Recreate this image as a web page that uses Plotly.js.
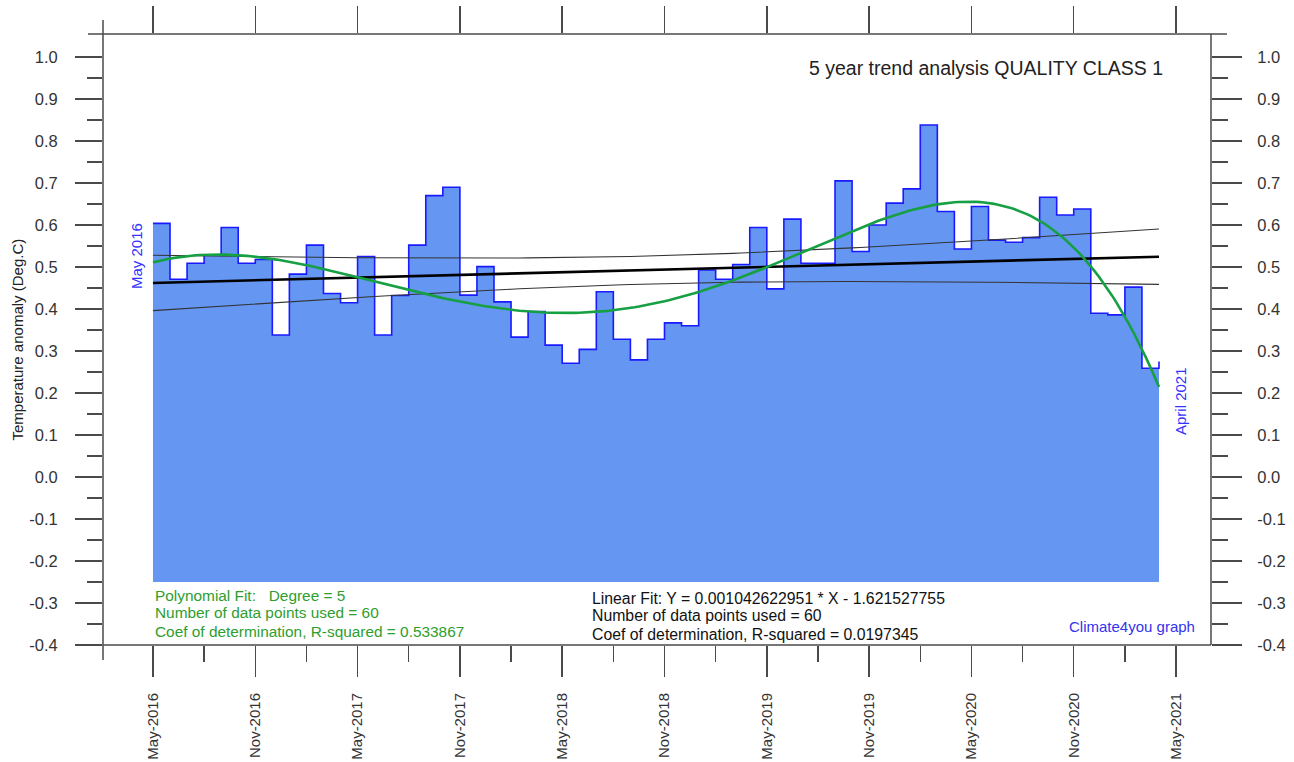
<!DOCTYPE html>
<html><head><meta charset="utf-8">
<script src="https://cdn.plot.ly/plotly-3.0.1.min.js"></script>
<style>html,body{margin:0;padding:0;background:#fff}#chart{width:1294px;height:762px}</style>
</head><body><div id="chart"></div>
<script>
// Monthly categories (May 2016 - April 2021)
const months = [
 'May-2016','Jun-2016','Jul-2016','Aug-2016','Sep-2016','Oct-2016','Nov-2016','Dec-2016',
 'Jan-2017','Feb-2017','Mar-2017','Apr-2017','May-2017','Jun-2017','Jul-2017','Aug-2017','Sep-2017','Oct-2017','Nov-2017','Dec-2017',
 'Jan-2018','Feb-2018','Mar-2018','Apr-2018','May-2018','Jun-2018','Jul-2018','Aug-2018','Sep-2018','Oct-2018','Nov-2018','Dec-2018',
 'Jan-2019','Feb-2019','Mar-2019','Apr-2019','May-2019','Jun-2019','Jul-2019','Aug-2019','Sep-2019','Oct-2019','Nov-2019','Dec-2019',
 'Jan-2020','Feb-2020','Mar-2020','Apr-2020','May-2020','Jun-2020','Jul-2020','Aug-2020','Sep-2020','Oct-2020','Nov-2020','Dec-2020',
 'Jan-2021','Feb-2021','Mar-2021','Apr-2021'
];
// Temperature anomaly (Deg.C)
const anomaly = [
 0.604,0.471,0.509,0.529,0.594,0.509,0.518,0.338,
 0.483,0.552,0.437,0.415,0.525,0.338,0.432,0.552,0.670,0.690,0.433,0.501,
 0.417,0.333,0.394,0.314,0.271,0.304,0.441,0.328,0.279,0.328,0.367,0.360,
 0.493,0.471,0.506,0.594,0.448,0.614,0.509,0.509,0.705,0.537,0.600,0.652,
 0.686,0.838,0.632,0.543,0.644,0.564,0.559,0.570,0.666,0.624,0.638,0.390,
 0.386,0.452,0.259,0.275
];
const xTickLabels = ['May-2016','Nov-2016','May-2017','Nov-2017','May-2018','Nov-2018','May-2019','Nov-2019','May-2020','Nov-2020','May-2021'];
const yTickValues = [-0.4,-0.3,-0.2,-0.1,0.0,0.1,0.2,0.3,0.4,0.5,0.6,0.7,0.8,0.9,1.0];
const fillBase = -0.25;

// ---- derived ----
const n = anomaly.length;
const xs = months.map((m,i)=>i);
const xTickVals = xTickLabels.map((l,i)=>i*6);
const xMinor = []; for (let i=-1;i<=20;i++){ xMinor.push(i*3); }
const yTickText = yTickValues.map(v=>v.toFixed(1));
const yMinor = yTickValues.slice(0,-1).map(v=>Math.round((v+0.05)*100)/100);

// linear regression + 95% confidence band of the mean
const xbar = xs.reduce((a,b)=>a+b,0)/n;
const ybar = anomaly.reduce((a,b)=>a+b,0)/n;
let sxx=0, sxy=0;
for (let i=0;i<n;i++){ sxx+=(xs[i]-xbar)**2; sxy+=(xs[i]-xbar)*(anomaly[i]-ybar); }
const slope = sxy/sxx, icpt = ybar - slope*xbar;
let sse=0; for (let i=0;i<n;i++){ sse += (anomaly[i]-(icpt+slope*xs[i]))**2; }
const s = Math.sqrt(sse/(n-2)), tval = 2.0017;
const fx=[], fy=[], fu=[], fl=[];
for (let x=0; x<=n-1+1e-9; x+=0.5){
  const yy = icpt+slope*x;
  const w = tval*s*Math.sqrt(1/n + (x-xbar)**2/sxx);
  fx.push(x); fy.push(yy); fu.push(yy+w); fl.push(yy-w);
}

// polynomial fit, degree 5
const deg = 5, half = (n-1)/2;
const M = Array.from({length:deg+1},()=>Array(deg+2).fill(0));
for (let i=0;i<n;i++){
  const t=(xs[i]-half)/half;
  const p=[]; for(let k=0;k<=deg;k++) p.push(Math.pow(t,k));
  for(let r=0;r<=deg;r++){ for(let c=0;c<=deg;c++) M[r][c]+=p[r]*p[c]; M[r][deg+1]+=p[r]*anomaly[i]; }
}
for (let c=0;c<=deg;c++){
  let piv=c; for(let r=c+1;r<=deg;r++) if(Math.abs(M[r][c])>Math.abs(M[piv][c])) piv=r;
  [M[c],M[piv]]=[M[piv],M[c]];
  for(let r=0;r<=deg;r++){ if(r===c) continue; const f=M[r][c]/M[c][c]; for(let k=c;k<=deg+1;k++) M[r][k]-=f*M[c][k]; }
}
const coef = M.map((row,i)=>row[deg+1]/row[i]);
const px=[], py=[];
for (let x=0; x<=n-1+1e-9; x+=0.25){
  const t=(x-half)/half; let v=0; for(let k=0;k<=deg;k++) v+=coef[k]*Math.pow(t,k);
  px.push(x); py.push(v);
}

const FONT = 'Liberation Sans, Arial, sans-serif';
const AX = '#4a4a4a';

const traces = [
  {x:[0,n-1], y:[fillBase,fillBase], mode:'lines', line:{width:0,color:'rgba(0,0,0,0)'}, hoverinfo:'skip', showlegend:false},
  {x:xs, y:anomaly, mode:'lines', line:{shape:'hv', color:'#1a1aff', width:1.6},
   fill:'tonexty', fillcolor:'rgb(100,150,242)', hoverinfo:'skip', showlegend:false},
  {x:fx, y:fu, mode:'lines', line:{color:'#333', width:1.1}, hoverinfo:'skip', showlegend:false},
  {x:fx, y:fl, mode:'lines', line:{color:'#333', width:1.1}, hoverinfo:'skip', showlegend:false},
  {x:fx, y:fy, mode:'lines', line:{color:'#000', width:2.6}, hoverinfo:'skip', showlegend:false},
  {x:px, y:py, mode:'lines', line:{color:'#17a043', width:2.6}, hoverinfo:'skip', showlegend:false},
  {x:[0], y:[0], xaxis:'x2', yaxis:'y2', mode:'markers', marker:{opacity:0}, hoverinfo:'skip', showlegend:false}
];

const xr = [-2.93, 62.05], yr = [-0.4, 1.0548];
const tickfontY = {family:FONT, size:16.5, color:'#333'};

const layout = {
  width:1294, height:762,
  margin:{l:103, r:83, t:34, b:117, pad:0},
  paper_bgcolor:'#fff', plot_bgcolor:'#fff', showlegend:false,
  xaxis:{range:xr, tickmode:'array', tickvals:xTickVals, ticktext:xTickLabels, tickangle:-90,
    ticks:'outside', ticklen:31, tickwidth:1.5, tickcolor:AX, showline:false, showgrid:false, zeroline:false,
    tickfont:{family:FONT, size:15, color:'#333'}, ticklabelstandoff:10,
    minor:{tickmode:'array', tickvals:xMinor, ticks:'outside', ticklen:16, tickwidth:1.5, tickcolor:AX, showgrid:false}},
  xaxis2:{range:xr, overlaying:'x', side:'top', anchor:'y2', tickmode:'array', tickvals:xTickVals,
    ticks:'outside', ticklen:27, tickwidth:1.5, tickcolor:AX, showticklabels:false, showline:false, showgrid:false, zeroline:false},
  yaxis:{range:yr, tickmode:'array', tickvals:yTickValues, ticktext:yTickText,
    ticks:'outside', ticklen:27, tickwidth:1.5, tickcolor:AX, showline:false, showgrid:false, zeroline:false,
    tickfont:tickfontY, ticklabelstandoff:14,
    minor:{tickmode:'array', tickvals:yMinor, ticks:'outside', ticklen:15, tickwidth:1.5, tickcolor:AX, showgrid:false}},
  yaxis2:{range:yr, overlaying:'y', side:'right', anchor:'x2', tickmode:'array', tickvals:yTickValues, ticktext:yTickText,
    ticks:'outside', ticklen:30, tickwidth:1.5, tickcolor:AX, showline:false, showgrid:false, zeroline:false,
    tickfont:tickfontY, ticklabelstandoff:12,
    minor:{tickmode:'array', tickvals:yMinor, ticks:'outside', ticklen:16, tickwidth:1.5, tickcolor:AX, showgrid:false}},
  shapes:[
    {type:'line', xref:'paper', yref:'paper', x0:0, x1:0, y0:-0.0245, y1:1.0229, line:{color:AX, width:1.5}},
    {type:'line', xref:'paper', yref:'paper', x0:-0.0135, x1:1.0144, y0:1, y1:1, line:{color:AX, width:1.5}},
    {type:'line', xref:'paper', yref:'paper', x0:1, x1:1, y0:0, y1:1, line:{color:AX, width:1.5}},
    {type:'line', xref:'paper', yref:'paper', x0:0, x1:1, y0:0, y1:0, line:{color:AX, width:1.5}}
  ],
  annotations:[
    {text:'5 year trend analysis QUALITY CLASS 1', xref:'paper', yref:'paper', x:0.9585, y:0.9444, xanchor:'right', yanchor:'middle', showarrow:false, font:{family:FONT, size:19.5, color:'#222'}},
    {text:'Temperature anomaly (Deg.C)', xref:'paper', yref:'paper', x:-0.0776, y:0.5, xanchor:'center', yanchor:'middle', textangle:-90, showarrow:false, font:{family:FONT, size:15, color:'#222'}},
    {text:'May 2016', xref:'paper', yref:'paper', x:0.0307, y:0.6367, xanchor:'center', yanchor:'middle', textangle:-90, showarrow:false, font:{family:FONT, size:15, color:'#3333ff'}},
    {text:'April 2021', xref:'paper', yref:'paper', x:0.972, y:0.3993, xanchor:'center', yanchor:'middle', textangle:-90, showarrow:false, font:{family:FONT, size:15, color:'#3333ff'}},
    {text:'Polynomial Fit:   Degree = 5', xref:'paper', yref:'paper', x:0.0451, y:0.0802, xanchor:'left', yanchor:'middle', showarrow:false, font:{family:FONT, size:15.4, color:'#2e9e2e'}},
    {text:'Number of data points used = 60', xref:'paper', yref:'paper', x:0.0451, y:0.0524, xanchor:'left', yanchor:'middle', showarrow:false, font:{family:FONT, size:15.4, color:'#2e9e2e'}},
    {text:'Coef of determination, R-squared = 0.533867', xref:'paper', yref:'paper', x:0.0451, y:0.0213, xanchor:'left', yanchor:'middle', showarrow:false, font:{family:FONT, size:15.4, color:'#2e9e2e'}},
    {text:'Linear Fit: Y = 0.001042622951 * X - 1.621527755', xref:'paper', yref:'paper', x:0.4395, y:0.0769, xanchor:'left', yanchor:'middle', showarrow:false, font:{family:FONT, size:15.8, color:'#111'}},
    {text:'Number of data points used = 60', xref:'paper', yref:'paper', x:0.4395, y:0.0475, xanchor:'left', yanchor:'middle', showarrow:false, font:{family:FONT, size:15.8, color:'#111'}},
    {text:'Coef of determination, R-squared = 0.0197345', xref:'paper', yref:'paper', x:0.4395, y:0.018, xanchor:'left', yanchor:'middle', showarrow:false, font:{family:FONT, size:15.8, color:'#111'}},
    {text:'Climate4you graph', xref:'paper', yref:'paper', x:0.9874, y:0.0295, xanchor:'right', yanchor:'middle', showarrow:false, font:{family:FONT, size:15, color:'#3333ee'}}
  ]
};
Plotly.newPlot('chart', traces, layout, {staticPlot:true, displayModeBar:false});
</script>
</body></html>
